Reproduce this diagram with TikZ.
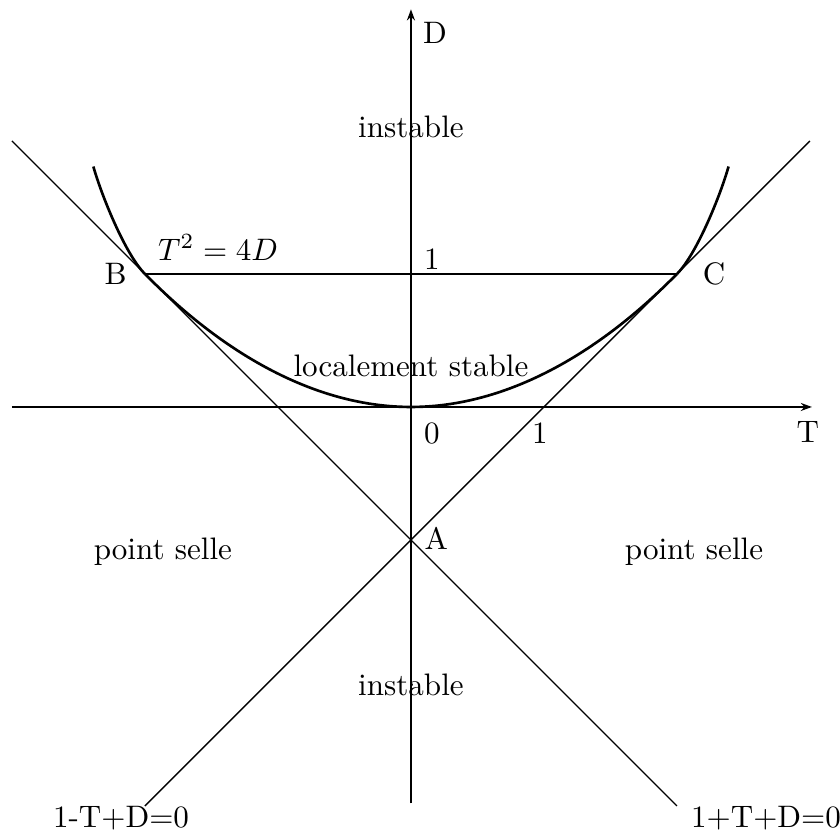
\documentclass[tikz,border=0pt]{standalone}
\usetikzlibrary{arrows.meta}
\begin{document}
\begin{tikzpicture}[x=1.505cm,y=1.505cm,
  thinline/.style={line width=0.45pt},
  curveline/.style={line width=0.85pt},
  axis/.style={line width=0.45pt,-{Stealth[length=3.6pt,width=2.6pt]}},
  lbl/.style={inner sep=0pt,font=\fontsize{10}{12}\selectfont}]
\useasboundingbox (-3.09,-3.203) rectangle (3.226,3.06);
% coordinates
\coordinate (O) at (0,0);
\coordinate (A) at (0,-1);
\coordinate (B) at (-2,1);
\coordinate (C) at (2,1);
\coordinate (Tl) at (-3,0);
\coordinate (Tr) at (3.015,0);
\coordinate (Db) at (0,-2.98);
\coordinate (Dt) at (0,2.99);
\coordinate (L1a) at (-3,2);
\coordinate (L1b) at (2,-3);
\coordinate (L2a) at (-2,-3);
\coordinate (L2b) at (3,2);
\coordinate (EL) at (-2.388,1.808);
\coordinate (ER) at (2.388,1.808);
% axes
\draw[axis] (Tl) -- (Tr);
\draw[axis] (Db) -- (Dt);
% lines
\draw[thinline] (L1a) -- (L1b);
\draw[thinline] (L2a) -- (L2b);
\draw[thinline] (B) -- (C);
% parabola
\draw[curveline] (B) parabola bend (O) (C);
\draw[curveline] (B) .. controls (-2.15,1.15) and (-2.33,1.6) .. (EL);
\draw[curveline] (C) .. controls (2.15,1.15) and (2.33,1.6) .. (ER);
% labels
\node[lbl] (labD) at (0.18,2.81) {D};
\node[lbl] (labT) at (2.985,-0.19) {T};
\node[lbl] (instT) at (0,2.105) {instable};
\node[lbl] (one1) at (0.158,1.11) {1};
\node[lbl] (eq) at (-1.45,1.2) {$T^2=4D$};
\node[lbl] (labB) at (-2.22,1.0) {B};
\node[lbl] (labC) at (2.28,1.0) {C};
\node[lbl] (ls) at (0,0.31) {localement stable};
\node[lbl] (zero) at (0.158,-0.2) {0};
\node[lbl] (oneT) at (0.97,-0.2) {1};
\node[lbl] (labA) at (0.19,-0.99) {A};
\node[lbl] (psL) at (-1.865,-1.09) {point selle};
\node[lbl] (psR) at (2.128,-1.09) {point selle};
\node[lbl] (instB) at (0,-2.09) {instable};
\node[lbl] (eqL) at (-2.18,-3.09) {1-T+D=0};
\node[lbl] (eqR) at (2.67,-3.09) {1+T+D=0};
\end{tikzpicture}
\end{document}
